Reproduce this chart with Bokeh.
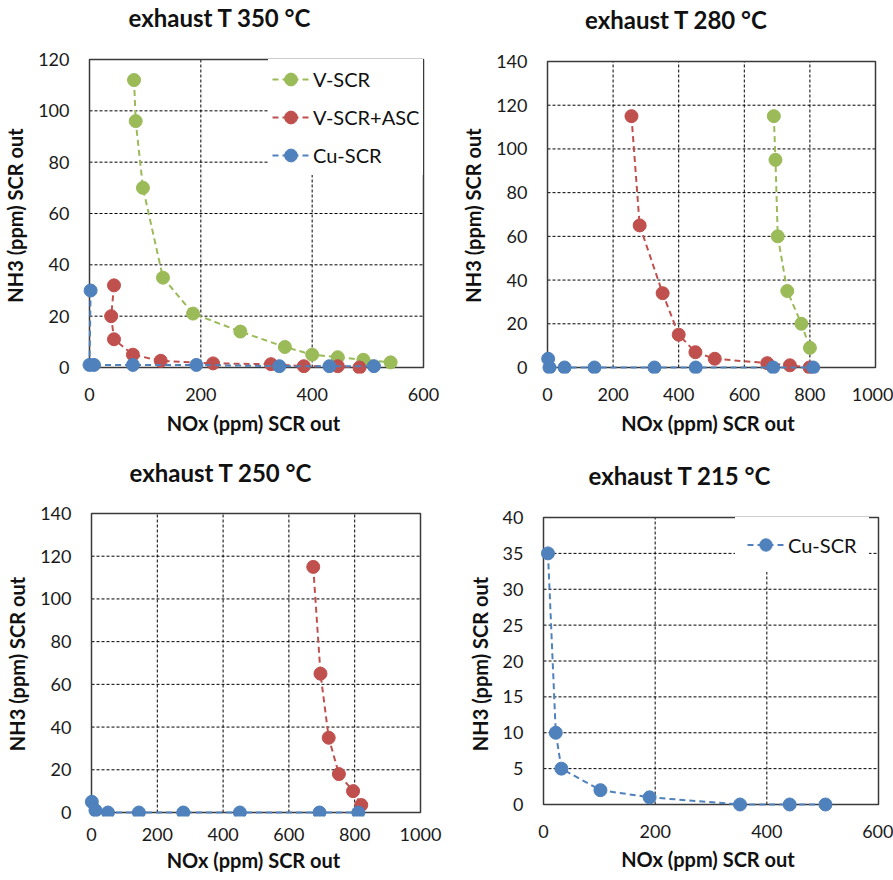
from bokeh.plotting import figure
from bokeh.layouts import column, row
from bokeh.models import Range1d, FixedTicker, Legend, LegendItem, Div
from bokeh.embed import file_html
from bokeh.resources import INLINE

# ---------------- data ----------------
SERIES_NAMES = ["V-SCR", "V-SCR+ASC", "Cu-SCR"]
COLORS = {"V-SCR": "#9BBB59", "V-SCR+ASC": "#C0504D", "Cu-SCR": "#4F81BD"}

titles = ["exhaust T 350 °C", "exhaust T 280 °C", "exhaust T 250 °C", "exhaust T 215 °C"]
x_label = "NOx (ppm) SCR out"
y_label = "NH3 (ppm) SCR out"

# exhaust T 350 °C
t350_vscr_x = [80, 83, 96, 132, 186, 271, 351, 400, 446, 492, 541]
t350_vscr_y = [112, 96, 70, 35, 21, 14, 8, 5, 4, 3, 2]
t350_asc_x = [44, 39, 44, 78, 128, 222, 326, 385, 446, 485]
t350_asc_y = [32, 20, 11, 5, 2.6, 1.6, 1.3, 0.5, 0.5, 0]
t350_cu_x = [2, 0, 8, 78, 192, 341, 431, 511]
t350_cu_y = [30, 1, 1, 1, 1, 0.5, 0.5, 0.5]
t350_xticks = [0, 200, 400, 600]
t350_yticks = [0, 20, 40, 60, 80, 100, 120]

# exhaust T 280 °C
t280_vscr_x = [690, 695, 702, 731, 774, 800]
t280_vscr_y = [115, 95, 60, 35, 20, 9]
t280_asc_x = [256, 281, 351, 400, 451, 510, 670, 739, 799]
t280_asc_y = [115, 65, 34, 15, 7, 4, 2, 1, 0]
t280_cu_x = [2, 6, 52, 143, 326, 452, 688, 810]
t280_cu_y = [4, 0, 0, 0, 0, 0, 0, 0]
t280_xticks = [0, 200, 400, 600, 800, 1000]
t280_yticks = [0, 20, 40, 60, 80, 100, 120, 140]

# exhaust T 250 °C
t250_asc_x = [674, 696, 721, 752, 795, 820]
t250_asc_y = [115, 65, 35, 18, 10, 3.5]
t250_cu_x = [1, 12, 50, 144, 279, 451, 693, 811]
t250_cu_y = [5, 1, 0, 0, 0, 0, 0, 0]
t250_xticks = [0, 200, 400, 600, 800, 1000]
t250_yticks = [0, 20, 40, 60, 80, 100, 120, 140]

# exhaust T 215 °C
t215_cu_x = [8, 22, 32, 102, 190, 352, 441, 505]
t215_cu_y = [35, 10, 5, 2, 1, 0, 0, 0]
t215_xticks = [0, 200, 400, 600]
t215_yticks = [0, 5, 10, 15, 20, 25, 30, 35, 40]

FONT = "Lato"
AXIS_COLOR = "#3a3a3a"


def make_panel(title, series, xticks, yticks, w, h, frame, box, title_pos,
               head_h=40, x_standoffs=(14, 7),
               legend_box=None, legend_names=None, legend_padding=4,
               legend_item_h=32, legend_spacing=6):
    # pixel positions are given in the cell's coordinates (title strip included)
    fh_ = h - head_h
    fl, ft, fr, fb = frame
    ft, fb = ft - head_h, fb - head_h
    L, T, R, B = box
    T, B = T - head_h, B - head_h
    x0, xmax = xticks[0], xticks[-1]
    y0, ymax = yticks[0], yticks[-1]
    kx = (xmax - x0) / (R - L)
    ky = (ymax - y0) / (B - T)
    xr = Range1d(x0 - (L - fl) * kx, xmax + (fr - R) * kx)
    yr = Range1d(y0 - (fb - B) * ky, ymax + (T - ft) * ky)
    p = figure(width=w, height=fh_, x_range=xr, y_range=yr, output_backend="svg",
               toolbar_location=None,
               min_border_left=fl, min_border_right=w - fr,
               min_border_top=ft, min_border_bottom=fh_ - fb)
    p.background_fill_color = "white"
    p.border_fill_color = "white"
    p.outline_line_color = None
    p.grid.visible = False

    for ax, ticks in ((p.xaxis, xticks), (p.yaxis, yticks)):
        ax.ticker = FixedTicker(ticks=ticks)
        ax.major_tick_line_color = None
        ax.minor_tick_line_color = None
        ax.major_tick_out = 0
        ax.major_tick_in = 0
        ax.axis_line_color = None
        ax.major_label_text_font = FONT
        ax.major_label_text_font_size = "18px"
        ax.major_label_text_color = "#1a1a1a"
        ax.axis_label_text_font = FONT
        ax.axis_label_text_font_style = "bold"
        ax.axis_label_text_font_size = "20px"
        ax.axis_label_text_color = "#111111"
    p.xaxis.axis_label = x_label
    p.yaxis.axis_label = y_label
    p.xaxis.major_label_standoff = x_standoffs[0]
    p.xaxis.axis_label_standoff = x_standoffs[1]
    p.yaxis.major_label_standoff = 20 - (L - fl)
    p.yaxis.axis_label_standoff = 8

    # dashed grid from the tick values
    gx = xticks[1:-1]
    gy = yticks[1:-1]
    p.segment(x0=gx, y0=[y0] * len(gx), x1=gx, y1=[ymax] * len(gx),
              line_color="#000000", line_width=1, line_dash="3 2")
    p.segment(x0=[x0] * len(gy), y0=gy, x1=[xmax] * len(gy), y1=gy,
              line_color="#000000", line_width=1, line_dash="3 2")
    # plot-area border
    p.quad(left=[x0], right=[xmax], bottom=[y0], top=[ymax], fill_alpha=0,
           line_color=AXIS_COLOR, line_width=1.5)

    items = []
    for name, xs, ys in series:
        c = COLORS[name]
        lr = p.line(xs, ys, line_color=c, line_width=2, line_dash="6 4")
        sr = p.scatter(xs, ys, size=13, fill_color=c, line_color=c)
        if legend_names and name in legend_names:
            items.append(LegendItem(label=name, renderers=[lr, sr]))

    if items:
        n = len(items)
        lh = 2 * legend_padding + n * legend_item_h + (n - 1) * legend_spacing
        lx, ly = legend_box
        ly -= head_h
        lg = Legend(items=items, location=(lx - fl, fb - (ly + lh)))
        lg.background_fill_color = "white"
        lg.background_fill_alpha = 1.0
        lg.border_line_alpha = 0
        lg.padding = legend_padding
        lg.margin = 0
        lg.spacing = legend_spacing
        lg.glyph_width = 37
        lg.glyph_height = legend_item_h
        lg.label_height = legend_item_h
        lg.label_standoff = 4
        lg.label_text_font = FONT
        lg.label_text_font_size = "20px"
        lg.label_text_color = "#111111"
        p.add_layout(lg)

    # chart title in a strip above the chart
    tx, tbase = title_pos
    top = tbase - 0.887 * 24 - 1
    head = Div(width=w, height=head_h, margin=(0, 0, 0, 0),
               text=(f'<div style="position:absolute; left:0px; top:{top:.1f}px; '
                     f'width:{2 * tx:.0f}px; text-align:center; white-space:nowrap; '
                     f'font-family:{FONT}; font-weight:bold; font-size:24px; '
                     f'line-height:24px; color:#111111;">{title}</div>'))
    return column(head, p)


# frames shared along rows / columns, boxes
c1 = make_panel(titles[0],
                [("V-SCR", t350_vscr_x, t350_vscr_y),
                 ("V-SCR+ASC", t350_asc_x, t350_asc_y),
                 ("Cu-SCR", t350_cu_x, t350_cu_y)],
                t350_xticks, t350_yticks, 446, 440,
                (81, 57, 425, 373), (89, 59, 423, 367), (219.5, 28),
                head_h=44, legend_box=(268, 59), legend_names=SERIES_NAMES)
c2 = make_panel(titles[1],
                [("V-SCR", t280_vscr_x, t280_vscr_y),
                 ("V-SCR+ASC", t280_asc_x, t280_asc_y),
                 ("Cu-SCR", t280_cu_x, t280_cu_y)],
                t280_xticks, t280_yticks, 447, 440,
                (89, 57, 434, 373), (101, 61, 429, 367), (230, 30.7),
                head_h=44)
c3 = make_panel(titles[2],
                [("V-SCR+ASC", t250_asc_x, t250_asc_y),
                 ("Cu-SCR", t250_cu_x, t250_cu_y)],
                t250_xticks, t250_yticks, 446, 440,
                (81, 71, 425, 376), (91, 73, 420, 372), (220.5, 43.3),
                head_h=58, x_standoffs=(11, 4))
c4 = make_panel(titles[3],
                [("Cu-SCR", t215_cu_x, t215_cu_y)],
                t215_xticks, t215_yticks, 447, 440,
                (89, 71, 434, 376), (97, 77, 432, 364), (233.5, 46.7),
                head_h=58, x_standoffs=(8, 6),
                legend_box=(289, 77), legend_names=["Cu-SCR"],
                legend_padding=12, legend_item_h=31)

layout = column(row(c1, c2), row(c3, c4))

open("out.html", "w").write(file_html(layout, INLINE))
